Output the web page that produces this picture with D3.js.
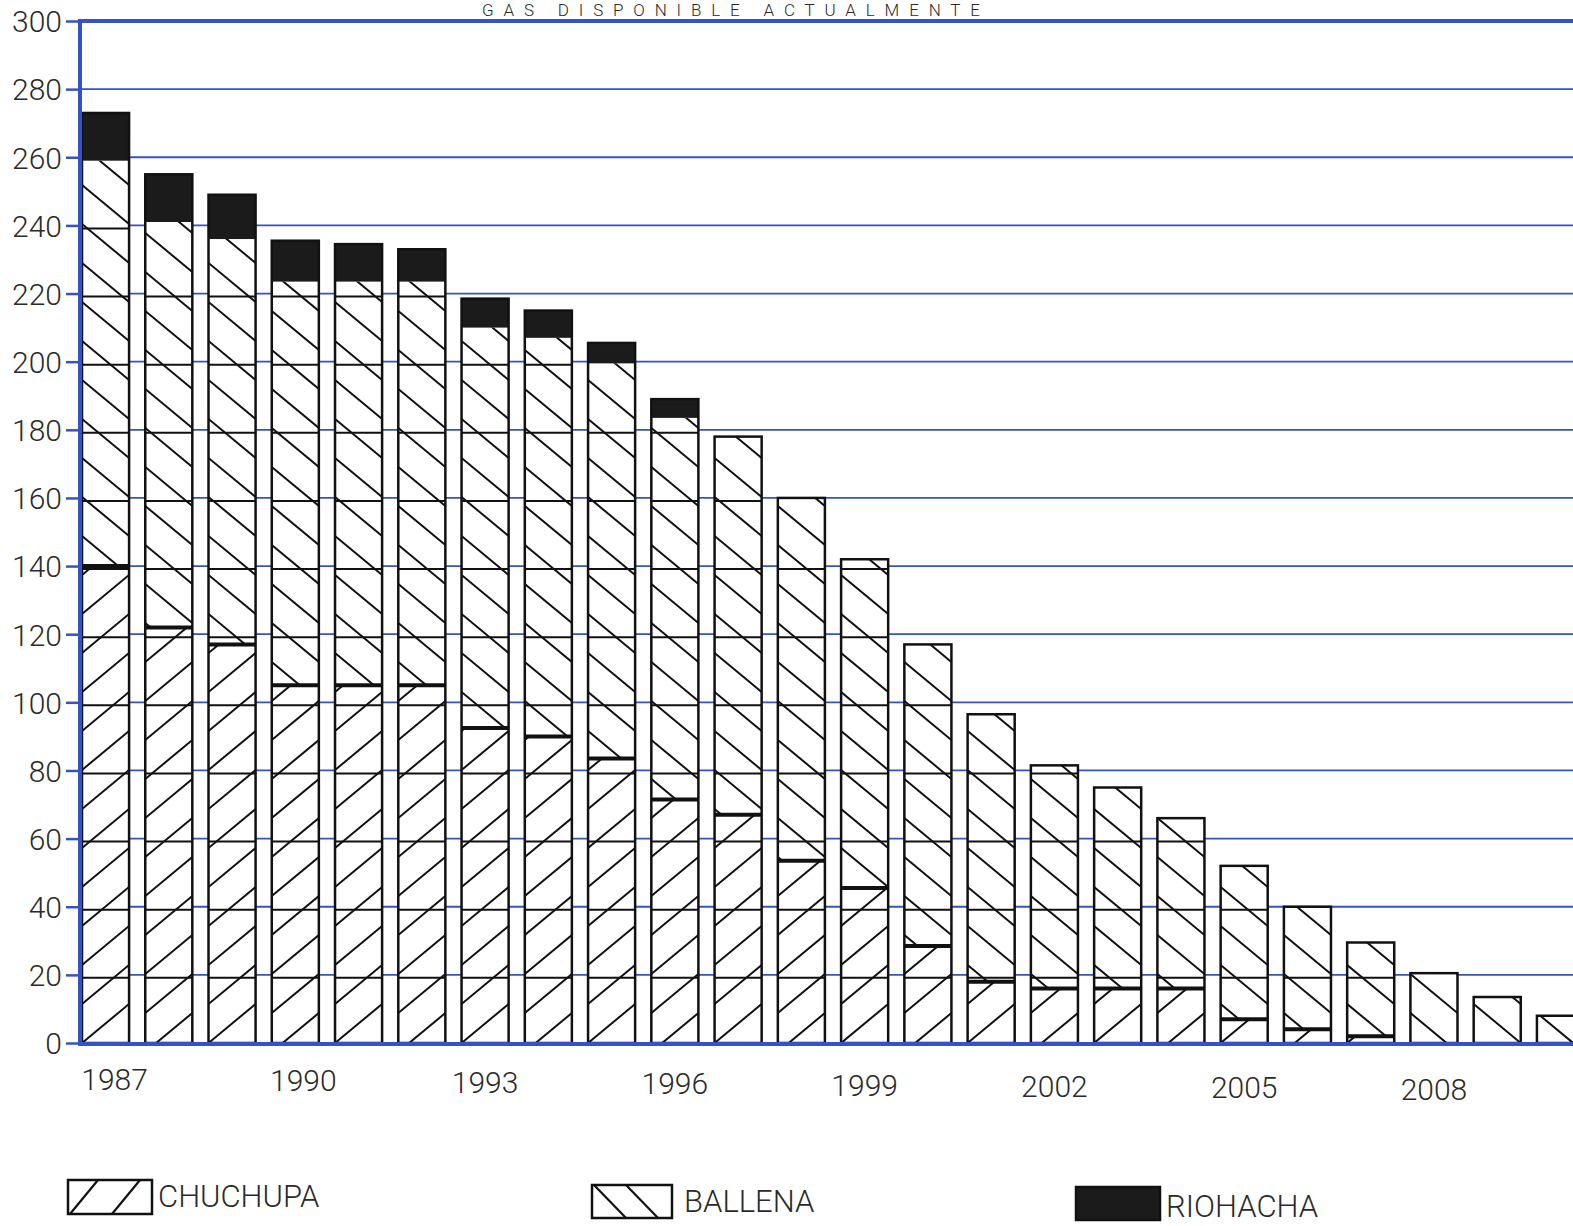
<!DOCTYPE html>
<html><head><meta charset="utf-8">
<script src="https://cdn.jsdelivr.net/npm/d3@7"></script>
<style>
html,body{margin:0;padding:0;background:#fff;overflow:hidden;}
svg{display:block;}
text{font-family:Roboto,"Liberation Sans",sans-serif;font-weight:300;fill:#2a2a2a;}
</style></head>
<body><svg id="c" width="1573" height="1226"></svg>
<script>
const title = "GAS  DISPONIBLE  ACTUALMENTE";
const years = [1987,1988,1989,1990,1991,1992,1993,1994,1995,1996,1997,1998,1999,2000,2001,2002,2003,2004,2005,2006,2007,2008,2009,2010];
const chuchupa = [140,122,117,105,105,105,92.5,90,83.5,71.5,67,53.5,45.5,28.5,18,16,16,16,7,4,2,0,0,0];
const ballena  = [119,119,119,118.5,118.5,118.5,117.5,117,116,112,111,106.5,96.5,88.5,78.5,65.5,59,50,45,36,27.5,20.5,13.5,8];
const riohacha = [14,14,13,12,11,9.5,8.5,8,6,5.5,0,0,0,0,0,0,0,0,0,0,0,0,0,0];
const yTicks = [0,20,40,60,80,100,120,140,160,180,200,220,240,260,280,300];
const xTickLabels = [1987,1990,1993,1996,1999,2002,2005,2008];
const seriesNames = ["CHUCHUPA","BALLENA","RIOHACHA"];

const BLUE = "#3553c8";
const svg = d3.select("#c");
const x = d3.scaleBand().domain(years).range([82, 1584]).paddingInner(0.256).paddingOuter(0);
const y = d3.scaleLinear().domain([0,300]).range([1043, 21]);
const bw = x.bandwidth();
const SP = 39; // hatch vertical spacing (px)

// title (at the very top)
svg.append("text").attr("x",482).attr("y",16).attr("font-size",17)
  .attr("textLength",498).attr("lengthAdjust","spacing").text(title);

// gridlines
const grid = svg.append("g");
grid.selectAll("line").data(yTicks.filter(d=>d>0)).join("line")
  .attr("x1",80).attr("x2",1573).attr("y1",d=>y(d)).attr("y2",d=>y(d))
  .attr("stroke",BLUE).attr("stroke-width",d=>d===300?4:1.8);

// stacked data
const rows = years.map((yr,i)=>({year:yr, c:chuchupa[i], b:ballena[i], r:riohacha[i]}));
const defs = svg.append("defs");
const bars = svg.append("g");

rows.forEach((d,i)=>{
  const x0 = x(d.year), x1 = x0 + bw;
  const g = bars.append("g");
  const total = d.c + d.b + d.r;
  g.append("rect").attr("x",x0).attr("y",y(total)).attr("width",bw).attr("height",y(0)-y(total)).attr("fill","#fff");
  const segs = [
    {lo:0, hi:d.c, dir:"/"},
    {lo:d.c, hi:d.c+d.b, dir:"\\"}
  ];
  segs.forEach((s,j)=>{
    if (s.hi - s.lo <= 0) return;
    const id = "clip"+i+"_"+j;
    defs.append("clipPath").attr("id",id).append("rect")
      .attr("x",x0).attr("y",y(s.hi)).attr("width",bw).attr("height",y(s.lo)-y(s.hi));
    const hg = g.append("g").attr("clip-path","url(#"+id+")");
    const base = y(0) + (i%2)*9;
    const ks = d3.range(-2, Math.ceil((y(0)-y(300))/SP)+3);
    hg.selectAll("line").data(ks).join("line")
      .attr("x1",x0).attr("x2",x1)
      .attr("y1",k=> s.dir==="/" ? base - k*SP : base - k*SP - SP)
      .attr("y2",k=> s.dir==="/" ? base - k*SP - SP : base - k*SP)
      .attr("stroke","#111").attr("stroke-width",2);
  });
  const lvls = yTicks.filter(v=>v>0 && v < d.c+d.b-1);
  g.selectAll("line.ig").data(lvls).join("line").attr("class","ig")
    .attr("x1",x0).attr("x2",x1).attr("y1",v=>y(v)+3).attr("y2",v=>y(v)+3)
    .attr("stroke","#111").attr("stroke-width",2);
  if (d.c>0) g.append("line").attr("x1",x0).attr("x2",x1).attr("y1",y(d.c)).attr("y2",y(d.c))
    .attr("stroke","#111").attr("stroke-width",4);
  if (d.r>0) g.append("rect").attr("x",x0).attr("y",y(total)).attr("width",bw)
    .attr("height",y(d.c+d.b)-y(total)).attr("fill","#1b1b1b");
  g.append("rect").attr("x",x0).attr("y",y(total)).attr("width",bw).attr("height",y(0)-y(total))
    .attr("fill","none").attr("stroke","#111").attr("stroke-width",2.5);
});

// y axis
const yAxis = d3.axisLeft(y).tickValues(yTicks).tickSize(14).tickPadding(4).tickFormat(d3.format("d"));
const ya = svg.append("g").attr("transform","translate(80,0)").call(yAxis);
ya.select(".domain").attr("stroke",BLUE).attr("stroke-width",4).attr("d","M0,"+(y(300)-2)+"V"+(y(0)+2));
ya.selectAll(".tick line").attr("stroke",BLUE).attr("stroke-width",2.5);
ya.selectAll(".tick text").attr("font-size",30).attr("fill","#2a2a2a").attr("font-family","Roboto").attr("font-weight",300).attr("dy","0.36em");

// baseline
svg.append("line").attr("x1",78).attr("x2",1573).attr("y1",y(0)+1).attr("y2",y(0)+1)
  .attr("stroke",BLUE).attr("stroke-width",4);

// x labels
svg.append("g").selectAll("text").data(xTickLabels).join("text")
  .attr("x",d=>x(d)+bw/2+ (d===1987?9:(d===1990?8:0))).attr("y",(d,i)=>1090+i*1.4)
  .attr("text-anchor","middle").attr("font-size",30).text(d=>d);

// legend
const leg = svg.append("g");
const L = [
  {name:seriesNames[0], bx:68, by:1180, w:84, h:34, type:"/", tx:158, ty:1207},
  {name:seriesNames[1], bx:592, by:1185, w:80, h:33, type:"\\", tx:684, ty:1212},
  {name:seriesNames[2], bx:1076, by:1187, w:84, h:33, type:"fill", tx:1166, ty:1217}
];
L.forEach(l=>{
  const g = leg.append("g");
  g.append("rect").attr("x",l.bx).attr("y",l.by).attr("width",l.w).attr("height",l.h)
    .attr("fill",l.type==="fill"?"#1b1b1b":"#fff").attr("stroke","#111").attr("stroke-width",2.5);
  if (l.type==="/") {
    [[0,30],[42,72]].forEach(p=>g.append("line").attr("x1",l.bx+p[0]+2).attr("y1",l.by+l.h)
      .attr("x2",l.bx+p[1]).attr("y2",l.by).attr("stroke","#111").attr("stroke-width",2.2));
  } else if (l.type==="\\") {
    [[2,34],[34,66]].forEach(p=>g.append("line").attr("x1",l.bx+p[0]).attr("y1",l.by)
      .attr("x2",l.bx+p[1]).attr("y2",l.by+l.h).attr("stroke","#111").attr("stroke-width",2.2));
  }
  g.append("text").attr("x",l.tx).attr("y",l.ty).attr("font-size",31).text(l.name);
});
</script></body></html>
